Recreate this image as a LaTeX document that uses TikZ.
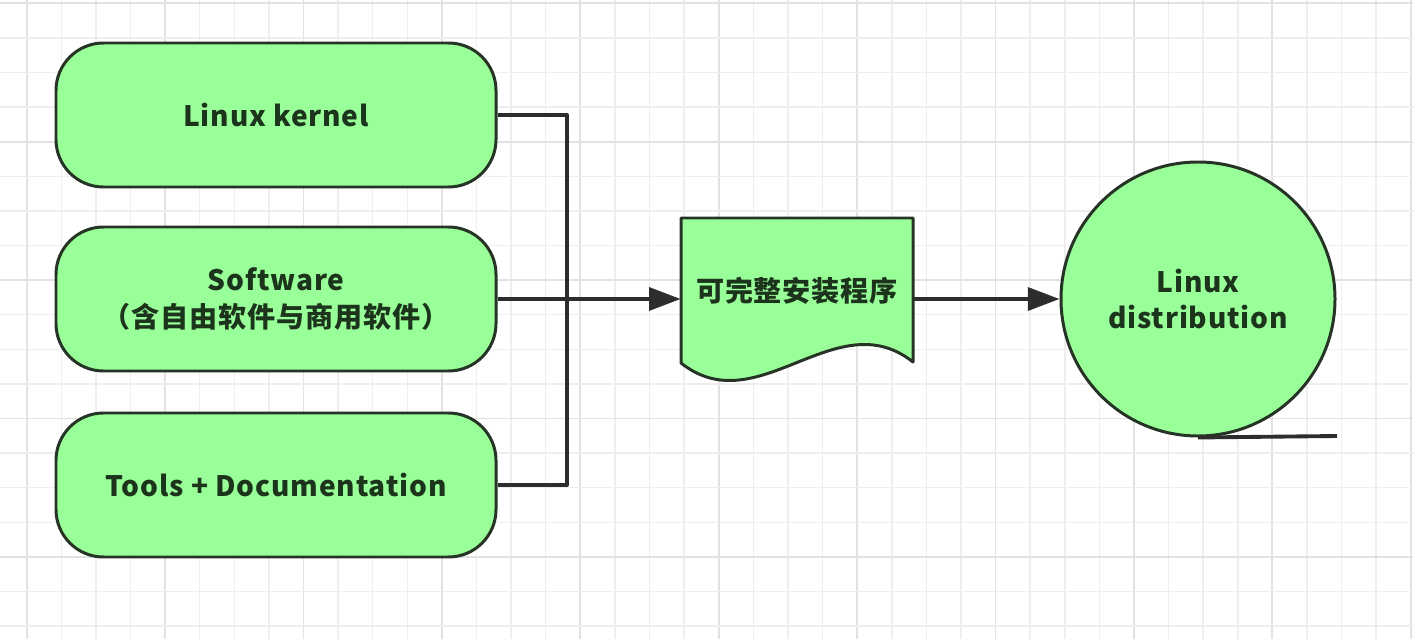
\documentclass[tikz,border=0pt]{standalone}
\usepackage{fontspec}
\setmainfont{Noto Sans CJK SC}[LetterSpace=3]
\usetikzlibrary{arrows.meta}

\definecolor{verde}{RGB}{153,255,153}
\definecolor{bordo}{RGB}{38,52,38}
\definecolor{linea}{RGB}{45,45,45}
\definecolor{testo}{RGB}{28,52,28}
\definecolor{griglia}{RGB}{238,238,238}
\definecolor{grigliaM}{RGB}{226,226,226}

\begin{document}
\begin{tikzpicture}[line join=round]
	% Stili
	\tikzset{
		blocco/.style={draw=bordo, fill=verde, line width=1.7pt, rounded corners=0.95cm,
			minimum width=8.8cm, minimum height=2.88cm, align=center,
			text=testo, font=\fontsize{16}{21.5}\selectfont\bfseries},
		scritta/.style={text=testo, align=center, font=\fontsize{16}{20}\selectfont\bfseries},
		freccia/.style={draw=linea, line width=2.2pt, -{Triangle[length=18pt, width=13pt]}},
		filo/.style={draw=linea, line width=2.2pt}
	}

	% Sfondo e griglia
	\fill[white] (0,0) rectangle (28.26,12.78);
	\useasboundingbox (0,0) rectangle (28.26,12.78);
	\foreach \i in {0,...,40} {
		\pgfmathsetmacro{\gx}{0.534+\i*0.692}
		\pgfmathtruncatemacro{\m}{mod(\i,4)}
		\ifnum\m=0
			\draw[grigliaM, line width=1.1pt] (\gx,0) -- (\gx,12.78);
		\else
			\draw[griglia, line width=0.9pt] (\gx,0) -- (\gx,12.78);
		\fi
	}
	\foreach \j in {0,...,18} {
		\pgfmathsetmacro{\gy}{12.714-\j*0.692}
		\pgfmathtruncatemacro{\m}{mod(\j,4)}
		\ifnum\m=0
			\draw[grigliaM, line width=1.1pt] (0,\gy) -- (28.26,\gy);
		\else
			\draw[griglia, line width=0.9pt] (0,\gy) -- (28.26,\gy);
		\fi
	}

	% Blocchi di partenza
	\node[blocco] (K_box) at (5.52, 10.48) {Linux kernel};
	\node[blocco] (S_box) at (5.52, 6.80) {Software\\（含自由软件与商用软件）};
	\node[blocco] (T_box) at (5.52, 3.08) {Tools + Documentation};

	% Documento (forma con bordo ondulato)
	\filldraw[fill=verde, draw=bordo, line width=1.7pt]
		(13.62, 5.52) -- (13.62, 8.42) -- (18.26, 8.42) -- (18.26, 5.54)
		.. controls (16.72, 6.76) and (15.16, 4.30) .. (13.62, 5.52) -- cycle;
	\node[scritta, minimum width=4.64cm, minimum height=2.9cm] (doc) at (15.94, 6.97) {可完整安装程序};

	% Distribuzione (nastro)
	\node[circle, draw=bordo, fill=verde, line width=1.7pt, minimum size=5.48cm,
		inner sep=0pt, scritta] (dist) at (23.96, 6.80) {Linux\\distribution};
	\coordinate (nastro) at (26.74, 4.06);
	\draw[filo] (dist.south) -- (nastro);

	% Collegamenti
	\draw[filo] (K_box.east) -- ++(1.39,0) |- (T_box.east);
	\draw[freccia] (S_box.east) -- (S_box.east -| doc.west);
	\draw[freccia] (doc.east |- dist.west) -- (dist.west);

\end{tikzpicture}
\end{document}
